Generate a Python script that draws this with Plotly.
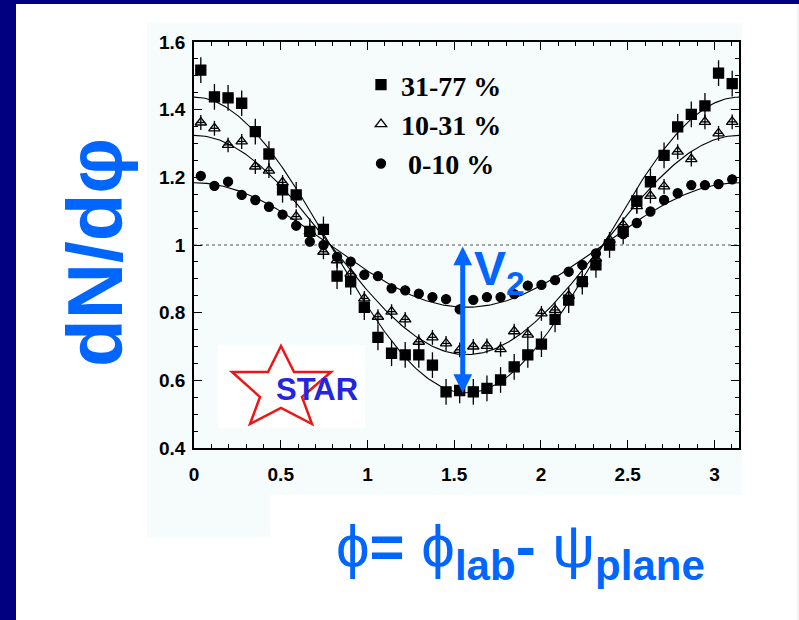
import numpy as np
import plotly.graph_objects as go

# ---------------- data ----------------
n_bins = 40
phi = [(i + 0.5) * np.pi / n_bins for i in range(n_bins)]

labels = ["31-77 %", "10-31 %", "\u00a00-10 %"]

y_31_77 = [1.517, 1.438, 1.435, 1.419, 1.335, 1.269, 1.163, 1.148, 1.040, 1.046,
           0.908, 0.891, 0.816, 0.727, 0.680, 0.675, 0.675, 0.645, 0.566, 0.570,
           0.566, 0.576, 0.601, 0.640, 0.675, 0.707, 0.780, 0.837, 0.892, 0.941,
           1.000, 1.040, 1.130, 1.187, 1.265, 1.349, 1.386, 1.411, 1.508, 1.477]
y_10_31 = [1.362, 1.345, 1.296, 1.306, 1.232, 1.220, 1.185, 1.084, 1.040, 0.980,
           0.955, 0.915, 0.842, 0.788, 0.803, 0.780, 0.714, 0.727, 0.709, 0.690,
           0.700, 0.702, 0.692, 0.745, 0.735, 0.798, 0.808, 0.850, 0.892, 0.960,
           1.015, 1.060, 1.115, 1.145, 1.173, 1.276, 1.254, 1.364, 1.330, 1.364]
y_0_10 = [1.204, 1.175, 1.187, 1.148, 1.133, 1.113, 1.090, 1.057, 1.010, 1.000,
          0.965, 0.951, 0.912, 0.908, 0.872, 0.866, 0.856, 0.846, 0.840, 0.810,
          0.838, 0.846, 0.846, 0.855, 0.880, 0.882, 0.896, 0.921, 0.941, 0.975,
          1.005, 1.032, 1.065, 1.099, 1.133, 1.153, 1.177, 1.177, 1.180, 1.194]

err_y = [0.038, 0.022, 0.014]
err_x = [0.03, 0.025, 0.025]

# elliptic-flow fit parameters v2 (dN/dphi = 1 + 2 v2 cos 2phi)
v2_fit = [0.2185, 0.162, 0.092]

x_ticks = [0, 0.5, 1, 1.5, 2, 2.5, 3]
y_ticks = [0.4, 0.6, 0.8, 1, 1.2, 1.4, 1.6]

BLUE = "#0066ff"

# ---------------- figure ----------------
W, H = 799, 620
L, R, T, B = 194, 60, 42, 172
pw, ph = W - L - R, H - T - B


def px(x):
    return (x - L) / pw


def py(y):
    return (H - B - y) / ph


fig = go.Figure()

symbols = ["square", "triangle-up-open", "circle"]
sizes = [10, 10, 9]
series = [y_31_77, y_10_31, y_0_10]

phi_fit = np.linspace(0, np.pi, 300)
for v2 in v2_fit:
    fig.add_trace(go.Scatter(x=phi_fit, y=1 + 2 * v2 * np.cos(2 * phi_fit),
                             mode="lines", line=dict(color="black", width=1.1),
                             showlegend=False, hoverinfo="skip"))

for lab, ys, sym, sz, ey, ex in zip(labels, series, symbols, sizes, err_y, err_x):
    fig.add_trace(go.Scatter(
        x=phi, y=ys, mode="markers", name=lab,
        marker=dict(symbol=sym, size=sz, color="black",
                    line=dict(color="black", width=1.3)),
        error_y=dict(type="constant", value=ey, color="black", thickness=1.3, width=0),
        error_x=dict(type="constant", value=ex, color="black", thickness=1.3, width=0),
    ))

shapes = []
# navy frame
shapes.append(dict(type="rect", xref="paper", yref="paper", x0=px(0), x1=px(16),
                   y0=py(0), y1=py(H), fillcolor="#000080", line_width=0, layer="below"))
shapes.append(dict(type="rect", xref="paper", yref="paper", x0=px(0), x1=px(W),
                   y0=py(0), y1=py(4), fillcolor="#000080", line_width=0, layer="below"))
shapes.append(dict(type="line", xref="paper", yref="paper", x0=px(798), x1=px(798),
                   y0=py(4), y1=py(H), line=dict(color="#e4e4e4", width=1), layer="below"))
# faint scanned panel
shapes.append(dict(type="rect", xref="paper", yref="paper", x0=px(147), x1=px(742),
                   y0=py(23), y1=py(495), fillcolor="#f6fbfb", line_width=0, layer="below"))
shapes.append(dict(type="rect", xref="paper", yref="paper", x0=px(147), x1=px(270),
                   y0=py(495), y1=py(537), fillcolor="#f6fbfb", line_width=0, layer="below"))
# reference line at 1
shapes.append(dict(type="line", xref="x", yref="y", x0=0, x1=np.pi, y0=1, y1=1,
                   line=dict(color="#8a8a8a", width=1.5, dash="dot"), layer="below"))
# STAR logo box
shapes.append(dict(type="rect", xref="paper", yref="paper", x0=px(218), x1=px(365),
                   y0=py(345), y1=py(428), fillcolor="white", line_width=0, layer="above"))
star_pts = [(281, 346), (294, 372), (331, 372), (302, 397), (312, 424), (281, 408),
            (250, 424), (260, 397), (232, 372), (268, 372)]
path = "M " + " L ".join(f"{px(a):.5f},{py(b):.5f}" for a, b in star_pts) + " Z"
shapes.append(dict(type="path", xref="paper", yref="paper", path=path,
                   line=dict(color="#ee1515", width=2.5), fillcolor="rgba(0,0,0,0)", layer="above"))

annotations = []
annotations.append(dict(xref="paper", yref="paper", x=px(317), y=py(389), text="<b>STAR</b>",
                        showarrow=False, font=dict(family="Liberation Sans", size=31, color="#2525e0"),
                        xanchor="center", yanchor="middle"))
# v2 arrow
annotations.append(dict(xref="x", yref="y", axref="x", ayref="y", x=1.549, y=0.5625,
                        ax=1.549, ay=1.0, text="", showarrow=True, arrowside="end+start",
                        arrowhead=2, arrowsize=0.75, arrowwidth=5, arrowcolor=BLUE,
                        startarrowhead=2, startarrowsize=0.75))
annotations.append(dict(xref="paper", yref="paper", x=px(472), y=py(240), text="<b>V<sub>2</sub></b>",
                        showarrow=False, xanchor="left", yanchor="top",
                        font=dict(family="Liberation Sans", size=48, color=BLUE)))
# axis titles
annotations.append(dict(xref="paper", yref="paper", x=px(95), y=py(253), text="<b>dN/d\u03c6</b>",
                        textangle=-90, showarrow=False, xanchor="center", yanchor="middle",
                        font=dict(family="Liberation Sans", size=78, color=BLUE)))
annotations.append(dict(xref="paper", yref="paper", x=px(520), y=py(551),
                        text="\u03d5<b>= </b>\u03d5<sub><b>lab</b></sub><b>- </b>\u03c8<sub><b>plane</b></sub>",
                        showarrow=False, xanchor="center", yanchor="middle",
                        font=dict(family="Liberation Sans", size=60, color=BLUE)))

axis_common = dict(showline=True, linecolor="black", linewidth=1.5, mirror="ticks",
                   ticks="inside", ticklen=8, tickwidth=1.3, tickcolor="black",
                   showgrid=False, zeroline=False,
                   tickfont=dict(family="Liberation Sans", size=19, color="black", weight="bold"))

fig.update_layout(
    width=W, height=H, margin=dict(l=L, r=R, t=T, b=B, pad=0),
    paper_bgcolor="white", plot_bgcolor="rgba(0,0,0,0)",
    xaxis=dict(range=[0, np.pi], tickvals=x_ticks, ticktext=[f"{v:g}" for v in x_ticks],
               minor=dict(dtick=0.1, tick0=0, ticks="inside", ticklen=4, tickcolor="black"),
               ticklabelstandoff=8, **axis_common),
    yaxis=dict(range=[0.4, 1.6], tickvals=y_ticks, ticktext=[f"{v:g}" for v in y_ticks],
               minor=dict(dtick=0.05, tick0=0.4, ticks="inside", ticklen=4, tickcolor="black"),
               ticklabelstandoff=3, **axis_common),
    shapes=shapes, annotations=annotations,
    showlegend=True,
    legend=dict(x=px(361), y=py(60), xanchor="left", yanchor="top",
                bgcolor="rgba(0,0,0,0)", borderwidth=0, tracegroupgap=0,
                font=dict(family="Liberation Serif", size=28, color="black", weight="bold")),
)

fig.write_html("out.html")
